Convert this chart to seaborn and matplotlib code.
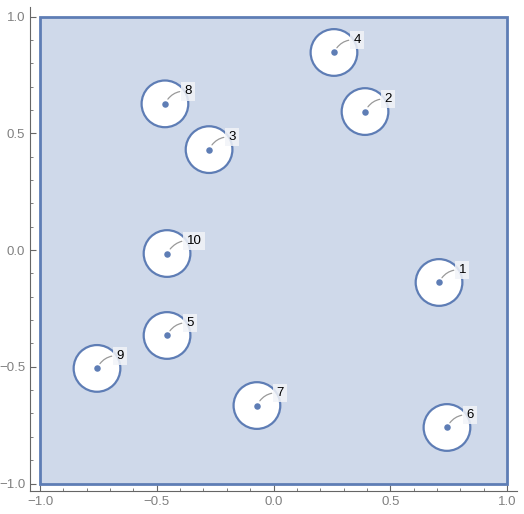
import numpy as np
import pandas as pd
import matplotlib
matplotlib.use("Agg")
import matplotlib.pyplot as plt
from matplotlib.patches import Rectangle, Circle
from matplotlib.ticker import MultipleLocator, FuncFormatter
import seaborn as sns

# point data
labels = ["1", "2", "3", "4", "5", "6", "7", "8", "9", "10"]
xs = [0.709, 0.392, -0.276, 0.259, -0.456, 0.743, -0.071, -0.465, -0.756, -0.456]
ys = [-0.139, 0.593, 0.430, 0.846, -0.366, -0.760, -0.666, 0.626, -0.507, -0.015]
radius = 0.1

df = pd.DataFrame({"x": xs, "y": ys, "label": labels})

edge = "#5E7DB5"
fill = "#CFD9EA"
axis_grey = "#666666"
tick_grey = "#808080"

sns.set_style("white")
plt.rcParams["font.family"] = ["Liberation Sans", "DejaVu Sans"]

fig = plt.figure(figsize=(5.24, 5.14), dpi=100)
ax = fig.add_axes([30 / 524, 23 / 514, 487 / 524, 484.4 / 514])

# square region with the discs cut out
ax.add_patch(Rectangle((-1, -1), 2, 2, facecolor=fill, edgecolor=edge, lw=2.0, zorder=1))
for x, y in zip(df["x"], df["y"]):
    ax.add_patch(Circle((x, y), radius, facecolor="white", edgecolor=edge, lw=1.6, zorder=2))

sns.scatterplot(data=df, x="x", y="y", color=edge, s=22, linewidth=0, ax=ax, zorder=3)

for x, y, lab in zip(df["x"], df["y"], df["label"]):
    ax.annotate(lab, xy=(x, y), xytext=(14, 9), textcoords="offset points",
                fontsize=9.5, color="black", ha="left", va="center",
                bbox=dict(boxstyle="square,pad=0.25", fc="#F2F4F8", ec="none", alpha=0.85),
                arrowprops=dict(arrowstyle="-", color="#999999", lw=0.9,
                                shrinkA=1, shrinkB=4,
                                connectionstyle="arc3,rad=0.35"),
                zorder=4)

ax.set_xlim(-1.043, 1.043)
ax.set_ylim(-1.032, 1.0425)
ax.set_xlabel("")
ax.set_ylabel("")

fmt = FuncFormatter(lambda v, pos: f"{v:.1f}".replace("-", "\u2212"))
ax.xaxis.set_major_locator(MultipleLocator(0.5))
ax.yaxis.set_major_locator(MultipleLocator(0.5))
ax.xaxis.set_minor_locator(MultipleLocator(0.1))
ax.yaxis.set_minor_locator(MultipleLocator(0.1))
ax.xaxis.set_major_formatter(fmt)
ax.yaxis.set_major_formatter(fmt)
ax.tick_params(which="both", direction="in", colors=axis_grey, labelcolor=tick_grey,
               labelsize=9.5, bottom=True, left=True, top=False, right=False)
ax.tick_params(which="major", length=4, width=0.8)
ax.tick_params(which="minor", length=2.5, width=0.6)

for side in ["top", "right"]:
    ax.spines[side].set_visible(False)
for side in ["left", "bottom"]:
    ax.spines[side].set_color(axis_grey)
    ax.spines[side].set_linewidth(0.8)

fig.savefig("out.png", dpi=100)
